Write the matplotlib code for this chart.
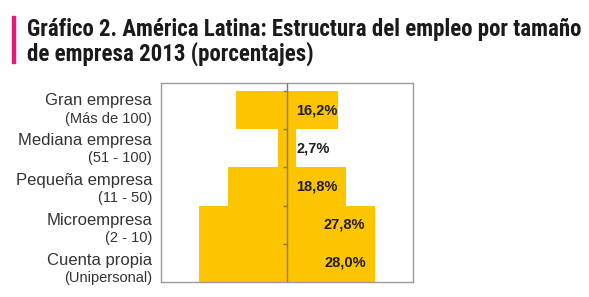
import matplotlib
matplotlib.use("Agg")
import matplotlib.pyplot as plt
from matplotlib.patches import Rectangle

W, H = 589, 297

categories = ["Gran empresa", "Mediana empresa", "Pequeña empresa", "Microempresa", "Cuenta propia"]
ranges = ["(Más de 100)", "(51 - 100)", "(11 - 50)", "(2 - 10)", "(Unipersonal)"]
shares = [16.2, 2.7, 18.8, 27.8, 28.0]
share_labels = ["16,2%", "2,7%", "18,8%", "27,8%", "28,0%"]

TITLE_LINES = ["Gráfico 2. América Latina: Estructura del empleo por tamaño",
               "de empresa 2013 (porcentajes)"]
BAR_COLOR = "#fdc500"
TEXT_COLOR = "#333333"

fig = plt.figure(figsize=(W / 100, H / 100), dpi=100)
ax = fig.add_axes([161 / W, 15 / H, 252 / W, 199 / H])

n = len(categories)
ypos = [n - 1 - i for i in range(n)]
ax.barh(ypos, [2 * s for s in shares], left=[-s for s in shares], height=1.0,
        color=BAR_COLOR, edgecolor="none", zorder=1)
ax.set_xlim(-40, 40)
ax.set_ylim(-0.5, n - 0.5 + 0.21)

# center axis with small ticks at the bar boundaries
ax.axvline(0, color="#857866", lw=1.0, zorder=3)
bounds = [y + 0.5 for y in ypos]
ax.plot([0] * len(bounds), bounds, ls="none", marker=0, ms=3, mew=1.0,
        color="#857866", zorder=3)

for y, s, lab in zip(ypos, shares, share_labels):
    if s < 20:
        ax.text(3, y, lab, ha="left", va="center", fontsize=10.5,
                fontweight="bold", family="Liberation Sans", color="#1e1e1e", zorder=4)
    else:
        ax.text(s - 3, y, lab, ha="right", va="center", fontsize=10.5,
                fontweight="bold", family="Liberation Sans", color="#1e1e1e", zorder=4)

ax.set_xticks([])
ax.set_yticks([])
for sp in ax.spines.values():
    sp.set_color("#9a9a9a")
    sp.set_linewidth(1.0)

# category labels, two lines each, right aligned left of the frame
for k, (cat, rng) in enumerate(zip(categories, ranges)):
    main_y = 101 + 39.8 * k
    fig.text(152 / W, 1 - main_y / H, cat, ha="right", va="center", fontsize=12,
             family="Liberation Sans", color=TEXT_COLOR)
    fig.text(152 / W, 1 - (main_y + 17.5) / H, rng, ha="right", va="center",
             fontsize=10.5, family="Liberation Sans", color=TEXT_COLOR)

# title with pink marker
fig.patches.append(Rectangle((12 / W, 1 - 63 / H), 3 / W, 47 / H,
                             transform=fig.transFigure, color="#e4197c"))
for line, base in zip(TITLE_LINES, [36, 61]):
    fig.text(27 / W, 1 - base / H, line, ha="left", va="baseline", fontsize=16.5,
             fontweight="bold", family=["Roboto Condensed", "DejaVu Sans"],
             color="#1a1a1a")

fig.savefig("out.png", dpi=100)
